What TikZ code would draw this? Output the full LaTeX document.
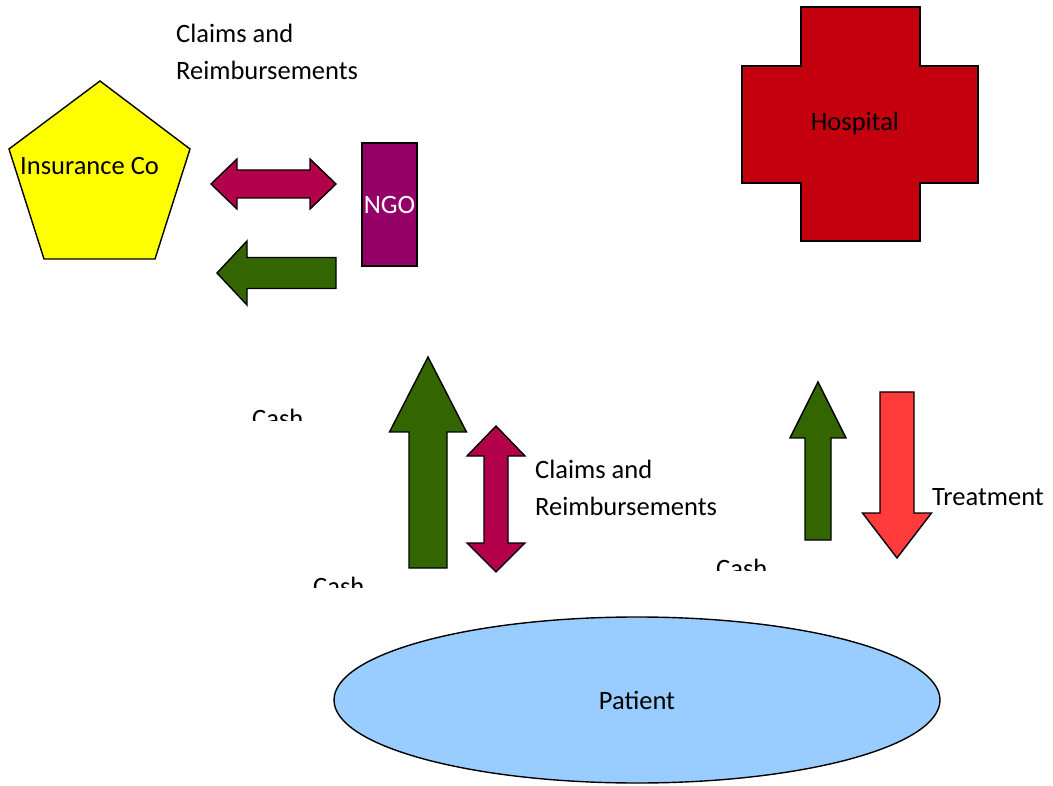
\documentclass[tikz,border=0pt]{standalone}
\usepackage{fontspec}
\setmainfont{Carlito}
\usepackage{tikz}
\usetikzlibrary{positioning, calc, shapes.geometric}
\definecolor{ink}{HTML}{000000}
\definecolor{crimson}{HTML}{B3004A}
\definecolor{leaf}{HTML}{336600}
\definecolor{plum}{HTML}{950068}
\definecolor{blood}{HTML}{C4000F}
\definecolor{salmon}{HTML}{FF3B3B}
\definecolor{lemon}{HTML}{FFFF00}
\definecolor{sky}{HTML}{99CCFF}
\newcommand{\LabelF}{\fontsize{26.5}{37}\selectfont}
% vertical block arrow: x, tip y, head base y, head half, shaft half, tail y, colour
\newcommand{\vblock}[7]{%
  \draw[fill=#7, draw=ink, line width=1.4pt] (#1,#2) -- (#1+#4,#3) -- (#1+#5,#3) -- (#1+#5,#6)
    -- (#1-#5,#6) -- (#1-#5,#3) -- (#1-#4,#3) -- cycle;
}
% horizontal block arrow: y, tip x, head base x, head half, shaft half, tail x, colour
\newcommand{\hblock}[7]{%
  \draw[fill=#7, draw=ink, line width=1.4pt] (#2,#1) -- (#3,#1-#4) -- (#3,#1-#5) -- (#6,#1-#5)
    -- (#6,#1+#5) -- (#3,#1+#5) -- (#3,#1+#4) -- cycle;
}
% two-headed arrows: centre, tip 1, base 1, base 2, tip 2, head half, shaft half, colour
\newcommand{\hdouble}[8]{%
  \draw[fill=#8, draw=ink, line width=1.4pt] (#2,#1) -- (#3,#1-#6) -- (#3,#1-#7) -- (#4,#1-#7)
    -- (#4,#1-#6) -- (#5,#1) -- (#4,#1+#6) -- (#4,#1+#7) -- (#3,#1+#7) -- (#3,#1+#6) -- cycle;
}
\newcommand{\vdouble}[8]{%
  \draw[fill=#8, draw=ink, line width=1.4pt] (#1,#2) -- (#1+#6,#3) -- (#1+#7,#3) -- (#1+#7,#4)
    -- (#1+#6,#4) -- (#1,#5) -- (#1-#6,#4) -- (#1-#7,#4) -- (#1-#7,#3) -- (#1-#6,#3) -- cycle;
}
% label cut off below a line
\newcommand{\cutlabel}[4]{%
  \begin{scope}
    \clip (#1-5,#2-30) rectangle (#1+80,#3);
    \node[anchor=base west, inner sep=0, font=\LabelF, text=ink] (#4) at (#1,#2) {Cash};
  \end{scope}
}

\begin{document}
\begin{tikzpicture}[x=1pt,y=-1pt]
\useasboundingbox (0,0) rectangle (1053,786);
\tikzset{
  lbl/.style={inner sep=0, font=\LabelF, text=ink},
}
% insurance company
\draw[fill=lemon, draw=ink, line width=1.4pt] (100,81) -- (190,149) -- (155,259) -- (44,259) -- (9,149) -- cycle;
\node[lbl, anchor=base west] (insurer) at (20,175) {Insurance Co};
% NGO
\node[draw=ink, fill=plum, line width=1.4pt, minimum width=55pt, minimum height=123pt,
  inner sep=0, font=\LabelF, text=white] (ngo) at (389.5,204.5) {NGO};
% hospital
\draw[fill=blood, draw=ink, line width=1.4pt] (801,7) -- (920,7) -- (920,66) -- (978,66) -- (978,183)
  -- (920,183) -- (920,241) -- (801,241) -- (801,183) -- (742,183) -- (742,66) -- (801,66) -- cycle;
\node[lbl] (hospital) at (855,123) {Hospital};
% patient
\node[ellipse, draw=ink, fill=sky, line width=1.4pt, minimum width=606pt, minimum height=166pt,
  inner sep=0, font=\LabelF] (patient) at (637,700) {Patient};

% arrows
\hdouble{184}{211}{237}{310}{336}{25}{14}{crimson}
\hblock{273}{217}{247}{32}{15.5}{336}{leaf}
\vblock{428}{357}{432}{38.5}{19}{568}{leaf}
\vdouble{496}{426}{456}{543}{572}{29}{12}{crimson}
\vblock{818}{382}{438}{28}{13}{540}{leaf}
\vblock{897}{558}{513}{34.5}{17}{392}{salmon}

% labels
\node[lbl, anchor=north west, align=left] (claimsTop) at (176,24) {Claims and\\Reimbursements};
\node[lbl, anchor=north west, align=left] (claimsMid) at (535,460) {Claims and\\Reimbursements};
\node[lbl, anchor=base west] (treatment) at (932,505) {Treatment};
\cutlabel{252}{428}{421}{cashA}
\cutlabel{313}{595}{587}{cashB}
\cutlabel{716}{577}{570}{cashC}
\end{tikzpicture}
\end{document}
